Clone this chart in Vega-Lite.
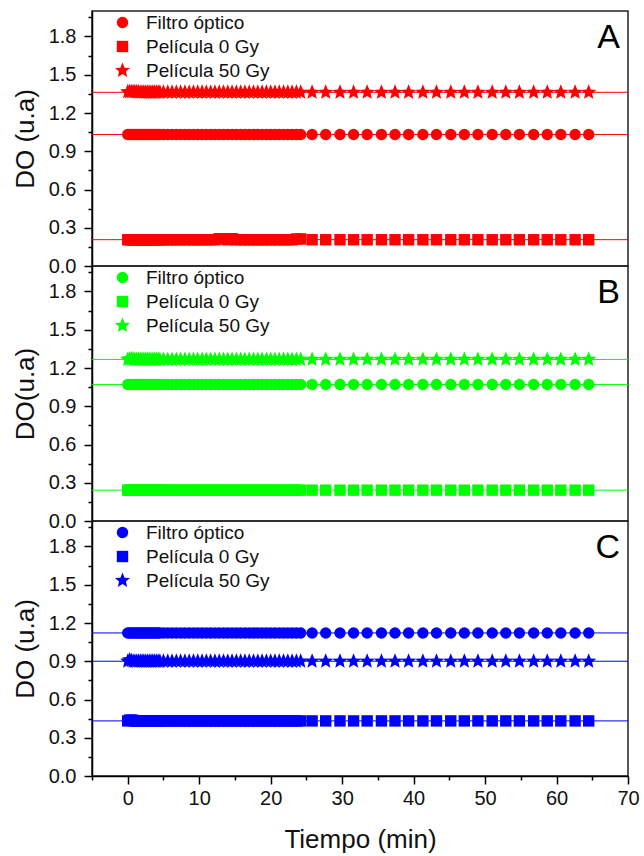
{
  "$schema": "https://vega.github.io/schema/vega-lite/v6.json",
  "padding": {"left": 11, "top": 6, "right": 10, "bottom": 2},
  "bounds": "flush",
  "spacing": 0,
  "datasets": {
    "obs": [
      {"t":0,"Af":1.031,"A0":0.206,"A50":1.366,"Bf":1.07,"B0":0.242,"B50":1.267,"Cf":1.122,"C0":0.432,"C50":0.9},
      {"t":0.25,"Af":1.031,"A0":0.206,"A50":1.366,"Bf":1.07,"B0":0.242,"B50":1.27,"Cf":1.122,"C0":0.438,"C50":0.91},
      {"t":0.5,"Af":1.031,"A0":0.206,"A50":1.366,"Bf":1.07,"B0":0.242,"B50":1.27,"Cf":1.122,"C0":0.438,"C50":0.905},
      {"t":0.75,"Af":1.031,"A0":0.206,"A50":1.366,"Bf":1.07,"B0":0.242,"B50":1.27,"Cf":1.122,"C0":0.436,"C50":0.9},
      {"t":1,"Af":1.031,"A0":0.206,"A50":1.366,"Bf":1.07,"B0":0.242,"B50":1.267,"Cf":1.122,"C0":0.432,"C50":0.9},
      {"t":1.25,"Af":1.031,"A0":0.206,"A50":1.366,"Bf":1.07,"B0":0.242,"B50":1.267,"Cf":1.122,"C0":0.432,"C50":0.9},
      {"t":1.5,"Af":1.031,"A0":0.206,"A50":1.364,"Bf":1.07,"B0":0.242,"B50":1.267,"Cf":1.122,"C0":0.432,"C50":0.9},
      {"t":1.75,"Af":1.031,"A0":0.206,"A50":1.362,"Bf":1.07,"B0":0.242,"B50":1.267,"Cf":1.122,"C0":0.432,"C50":0.9},
      {"t":2,"Af":1.031,"A0":0.206,"A50":1.362,"Bf":1.07,"B0":0.242,"B50":1.267,"Cf":1.122,"C0":0.432,"C50":0.9},
      {"t":2.25,"Af":1.031,"A0":0.206,"A50":1.362,"Bf":1.07,"B0":0.242,"B50":1.267,"Cf":1.122,"C0":0.432,"C50":0.9},
      {"t":2.5,"Af":1.031,"A0":0.206,"A50":1.362,"Bf":1.07,"B0":0.242,"B50":1.267,"Cf":1.122,"C0":0.432,"C50":0.9},
      {"t":2.75,"Af":1.031,"A0":0.206,"A50":1.362,"Bf":1.07,"B0":0.242,"B50":1.267,"Cf":1.122,"C0":0.432,"C50":0.9},
      {"t":3,"Af":1.031,"A0":0.206,"A50":1.362,"Bf":1.07,"B0":0.242,"B50":1.267,"Cf":1.122,"C0":0.432,"C50":0.9},
      {"t":3.25,"Af":1.031,"A0":0.206,"A50":1.362,"Bf":1.07,"B0":0.242,"B50":1.267,"Cf":1.122,"C0":0.432,"C50":0.9},
      {"t":3.5,"Af":1.031,"A0":0.206,"A50":1.362,"Bf":1.07,"B0":0.242,"B50":1.267,"Cf":1.122,"C0":0.432,"C50":0.9},
      {"t":3.75,"Af":1.031,"A0":0.206,"A50":1.362,"Bf":1.07,"B0":0.242,"B50":1.267,"Cf":1.122,"C0":0.432,"C50":0.9},
      {"t":4,"Af":1.031,"A0":0.206,"A50":1.362,"Bf":1.07,"B0":0.242,"B50":1.267,"Cf":1.122,"C0":0.432,"C50":0.9},
      {"t":4.25,"Af":1.031,"A0":0.206,"A50":1.362,"Bf":1.07,"B0":0.242,"B50":1.267,"Cf":1.122,"C0":0.432,"C50":0.9},
      {"t":4.5,"Af":1.031,"A0":0.206,"A50":1.362,"Bf":1.07,"B0":0.242,"B50":1.267,"Cf":1.122,"C0":0.432,"C50":0.9},
      {"t":5,"Af":1.031,"A0":0.206,"A50":1.362,"Bf":1.07,"B0":0.242,"B50":1.267,"Cf":1.122,"C0":0.432,"C50":0.9},
      {"t":5.6,"Af":1.031,"A0":0.206,"A50":1.362,"Bf":1.07,"B0":0.242,"B50":1.267,"Cf":1.122,"C0":0.432,"C50":0.9},
      {"t":6.2,"Af":1.031,"A0":0.206,"A50":1.362,"Bf":1.07,"B0":0.242,"B50":1.267,"Cf":1.122,"C0":0.432,"C50":0.9},
      {"t":6.8,"Af":1.031,"A0":0.206,"A50":1.362,"Bf":1.07,"B0":0.242,"B50":1.267,"Cf":1.122,"C0":0.432,"C50":0.9},
      {"t":7.4,"Af":1.031,"A0":0.206,"A50":1.362,"Bf":1.07,"B0":0.242,"B50":1.267,"Cf":1.122,"C0":0.432,"C50":0.9},
      {"t":8,"Af":1.031,"A0":0.206,"A50":1.362,"Bf":1.07,"B0":0.242,"B50":1.267,"Cf":1.122,"C0":0.432,"C50":0.9},
      {"t":8.6,"Af":1.031,"A0":0.206,"A50":1.362,"Bf":1.07,"B0":0.242,"B50":1.267,"Cf":1.122,"C0":0.432,"C50":0.9},
      {"t":9.2,"Af":1.031,"A0":0.206,"A50":1.362,"Bf":1.07,"B0":0.242,"B50":1.267,"Cf":1.122,"C0":0.432,"C50":0.9},
      {"t":9.8,"Af":1.031,"A0":0.206,"A50":1.362,"Bf":1.07,"B0":0.242,"B50":1.267,"Cf":1.122,"C0":0.432,"C50":0.9},
      {"t":10.4,"Af":1.031,"A0":0.206,"A50":1.362,"Bf":1.07,"B0":0.242,"B50":1.267,"Cf":1.122,"C0":0.432,"C50":0.9},
      {"t":11,"Af":1.031,"A0":0.206,"A50":1.362,"Bf":1.07,"B0":0.242,"B50":1.267,"Cf":1.122,"C0":0.432,"C50":0.9},
      {"t":11.6,"Af":1.031,"A0":0.206,"A50":1.362,"Bf":1.07,"B0":0.242,"B50":1.267,"Cf":1.122,"C0":0.432,"C50":0.9},
      {"t":12.2,"Af":1.031,"A0":0.206,"A50":1.362,"Bf":1.07,"B0":0.242,"B50":1.267,"Cf":1.122,"C0":0.432,"C50":0.9},
      {"t":12.8,"Af":1.031,"A0":0.214,"A50":1.362,"Bf":1.07,"B0":0.242,"B50":1.267,"Cf":1.122,"C0":0.432,"C50":0.9},
      {"t":13.4,"Af":1.031,"A0":0.214,"A50":1.362,"Bf":1.07,"B0":0.242,"B50":1.267,"Cf":1.122,"C0":0.432,"C50":0.9},
      {"t":14,"Af":1.031,"A0":0.206,"A50":1.362,"Bf":1.07,"B0":0.242,"B50":1.267,"Cf":1.122,"C0":0.432,"C50":0.9},
      {"t":14.6,"Af":1.031,"A0":0.214,"A50":1.362,"Bf":1.07,"B0":0.242,"B50":1.267,"Cf":1.122,"C0":0.432,"C50":0.9},
      {"t":15.2,"Af":1.031,"A0":0.206,"A50":1.362,"Bf":1.07,"B0":0.242,"B50":1.267,"Cf":1.122,"C0":0.432,"C50":0.9},
      {"t":15.8,"Af":1.031,"A0":0.206,"A50":1.362,"Bf":1.07,"B0":0.242,"B50":1.267,"Cf":1.122,"C0":0.432,"C50":0.9},
      {"t":16.4,"Af":1.031,"A0":0.206,"A50":1.362,"Bf":1.07,"B0":0.242,"B50":1.267,"Cf":1.122,"C0":0.432,"C50":0.9},
      {"t":17,"Af":1.031,"A0":0.206,"A50":1.362,"Bf":1.07,"B0":0.242,"B50":1.267,"Cf":1.122,"C0":0.432,"C50":0.9},
      {"t":17.6,"Af":1.031,"A0":0.206,"A50":1.362,"Bf":1.07,"B0":0.242,"B50":1.267,"Cf":1.122,"C0":0.432,"C50":0.9},
      {"t":18.2,"Af":1.031,"A0":0.206,"A50":1.362,"Bf":1.07,"B0":0.242,"B50":1.267,"Cf":1.122,"C0":0.432,"C50":0.9},
      {"t":18.8,"Af":1.031,"A0":0.206,"A50":1.362,"Bf":1.07,"B0":0.242,"B50":1.267,"Cf":1.122,"C0":0.432,"C50":0.9},
      {"t":19.4,"Af":1.031,"A0":0.206,"A50":1.362,"Bf":1.07,"B0":0.242,"B50":1.267,"Cf":1.122,"C0":0.432,"C50":0.9},
      {"t":20,"Af":1.031,"A0":0.206,"A50":1.362,"Bf":1.07,"B0":0.242,"B50":1.267,"Cf":1.122,"C0":0.432,"C50":0.9},
      {"t":20.6,"Af":1.031,"A0":0.206,"A50":1.362,"Bf":1.07,"B0":0.242,"B50":1.267,"Cf":1.122,"C0":0.432,"C50":0.9},
      {"t":21.2,"Af":1.031,"A0":0.206,"A50":1.362,"Bf":1.07,"B0":0.242,"B50":1.267,"Cf":1.122,"C0":0.432,"C50":0.9},
      {"t":21.8,"Af":1.031,"A0":0.206,"A50":1.362,"Bf":1.07,"B0":0.242,"B50":1.267,"Cf":1.122,"C0":0.432,"C50":0.9},
      {"t":22.4,"Af":1.031,"A0":0.206,"A50":1.362,"Bf":1.07,"B0":0.242,"B50":1.267,"Cf":1.122,"C0":0.432,"C50":0.9},
      {"t":23,"Af":1.031,"A0":0.206,"A50":1.362,"Bf":1.07,"B0":0.242,"B50":1.267,"Cf":1.122,"C0":0.432,"C50":0.9},
      {"t":23.6,"Af":1.031,"A0":0.212,"A50":1.362,"Bf":1.07,"B0":0.242,"B50":1.267,"Cf":1.122,"C0":0.432,"C50":0.9},
      {"t":24.2,"Af":1.031,"A0":0.212,"A50":1.362,"Bf":1.07,"B0":0.242,"B50":1.267,"Cf":1.122,"C0":0.432,"C50":0.9},
      {"t":25.8,"Af":1.031,"A0":0.206,"A50":1.362,"Bf":1.07,"B0":0.242,"B50":1.267,"Cf":1.122,"C0":0.432,"C50":0.9},
      {"t":27.7,"Af":1.031,"A0":0.206,"A50":1.362,"Bf":1.07,"B0":0.242,"B50":1.267,"Cf":1.122,"C0":0.432,"C50":0.9},
      {"t":29.7,"Af":1.031,"A0":0.206,"A50":1.362,"Bf":1.07,"B0":0.242,"B50":1.267,"Cf":1.122,"C0":0.432,"C50":0.9},
      {"t":31.6,"Af":1.031,"A0":0.206,"A50":1.362,"Bf":1.07,"B0":0.242,"B50":1.267,"Cf":1.122,"C0":0.432,"C50":0.9},
      {"t":33.5,"Af":1.031,"A0":0.206,"A50":1.362,"Bf":1.07,"B0":0.242,"B50":1.267,"Cf":1.122,"C0":0.432,"C50":0.9},
      {"t":35.5,"Af":1.031,"A0":0.206,"A50":1.362,"Bf":1.07,"B0":0.242,"B50":1.267,"Cf":1.122,"C0":0.432,"C50":0.9},
      {"t":37.4,"Af":1.031,"A0":0.206,"A50":1.362,"Bf":1.07,"B0":0.242,"B50":1.267,"Cf":1.122,"C0":0.432,"C50":0.9},
      {"t":39.3,"Af":1.031,"A0":0.206,"A50":1.362,"Bf":1.07,"B0":0.242,"B50":1.267,"Cf":1.122,"C0":0.432,"C50":0.9},
      {"t":41.3,"Af":1.031,"A0":0.206,"A50":1.362,"Bf":1.07,"B0":0.242,"B50":1.267,"Cf":1.122,"C0":0.432,"C50":0.9},
      {"t":43.2,"Af":1.031,"A0":0.206,"A50":1.362,"Bf":1.07,"B0":0.242,"B50":1.267,"Cf":1.122,"C0":0.432,"C50":0.9},
      {"t":45.2,"Af":1.031,"A0":0.206,"A50":1.362,"Bf":1.07,"B0":0.242,"B50":1.267,"Cf":1.122,"C0":0.432,"C50":0.9},
      {"t":47.1,"Af":1.031,"A0":0.206,"A50":1.362,"Bf":1.07,"B0":0.242,"B50":1.267,"Cf":1.122,"C0":0.432,"C50":0.9},
      {"t":49,"Af":1.031,"A0":0.206,"A50":1.362,"Bf":1.07,"B0":0.242,"B50":1.267,"Cf":1.122,"C0":0.432,"C50":0.9},
      {"t":51,"Af":1.031,"A0":0.206,"A50":1.362,"Bf":1.07,"B0":0.242,"B50":1.267,"Cf":1.122,"C0":0.432,"C50":0.9},
      {"t":52.9,"Af":1.031,"A0":0.206,"A50":1.362,"Bf":1.07,"B0":0.242,"B50":1.267,"Cf":1.122,"C0":0.432,"C50":0.9},
      {"t":54.8,"Af":1.031,"A0":0.206,"A50":1.362,"Bf":1.07,"B0":0.242,"B50":1.267,"Cf":1.122,"C0":0.432,"C50":0.9},
      {"t":56.8,"Af":1.031,"A0":0.206,"A50":1.362,"Bf":1.07,"B0":0.242,"B50":1.267,"Cf":1.122,"C0":0.432,"C50":0.9},
      {"t":58.7,"Af":1.031,"A0":0.206,"A50":1.362,"Bf":1.07,"B0":0.242,"B50":1.267,"Cf":1.122,"C0":0.432,"C50":0.9},
      {"t":60.6,"Af":1.031,"A0":0.206,"A50":1.362,"Bf":1.07,"B0":0.242,"B50":1.267,"Cf":1.122,"C0":0.432,"C50":0.9},
      {"t":62.6,"Af":1.031,"A0":0.206,"A50":1.362,"Bf":1.07,"B0":0.242,"B50":1.267,"Cf":1.122,"C0":0.432,"C50":0.9},
      {"t":64.5,"Af":1.031,"A0":0.206,"A50":1.362,"Bf":1.07,"B0":0.242,"B50":1.267,"Cf":1.122,"C0":0.432,"C50":0.9}
    ]
  },
  "data": {"name": "obs"},
  "resolve": {"scale": {"shape": "independent"}, "legend": {"shape": "independent"}},
  "vconcat": [
    {
      "width": 536, "height": 255,
      "transform": [{"fold": ["Af", "A0", "A50"], "as": ["serie", "DO"]}],
      "layer": [
        {
          "mark": {"type": "rule", "color": "#ff0000", "strokeWidth": 1},
          "encoding": {
            "y": {"aggregate": "mean", "field": "DO", "type": "quantitative", "scale": {"domain": [0, 2], "nice": false, "zero": false},
              "axis": {"title": "DO (u.a)", "tickCount": 100, "values": [0,0.15,0.3,0.45,0.6,0.75,0.9,1.05,1.2,1.35,1.5,1.65,1.8,1.95], "labelExpr": "round(datum.value*100) % 30 === 0 ? format(datum.value, '.1f') : ''", "tickSize": {"condition": {"test": "round(datum.value*100) % 30 === 0", "value": 8}, "value": 4}}},
            "detail": {"field": "serie"}
          }
        },
        {
          "mark": {"type": "point", "filled": true, "opacity": 1, "color": "#ff0000", "size": 130, "strokeWidth": 0},
          "encoding": {
            "x": {"field": "t", "type": "quantitative", "scale": {"domain": [-5, 70], "nice": false, "zero": false}, "axis": null},
            "y": {"field": "DO", "type": "quantitative",
              "axis": {"title": "DO (u.a)", "tickCount": 100, "values": [0,0.15,0.3,0.45,0.6,0.75,0.9,1.05,1.2,1.35,1.5,1.65,1.8,1.95], "labelExpr": "round(datum.value*100) % 30 === 0 ? format(datum.value, '.1f') : ''", "tickSize": {"condition": {"test": "round(datum.value*100) % 30 === 0", "value": 8}, "value": 4}}},
            "shape": {"field": "serie", "type": "nominal",
              "scale": {"domain": ["Af", "A0", "A50"], "range": ["circle", "square", "M0,-1.4L0.37,-0.5L1.33,-0.43L0.6,0.19L0.82,1.13L0,0.62L-0.82,1.13L-0.6,0.19L-1.33,-0.43L-0.37,-0.5Z"]},
              "legend": {"labelExpr": "datum.label === 'Af' ? 'Filtro óptico' : datum.label === 'A0' ? 'Película 0 Gy' : '\u00a0Película 50 Gy'", "symbolFillColor": "#ff0000"}}
          }
        },
        {
          "data": {"values": [{"panel": "A"}]},
          "mark": {"type": "text", "align": "right", "baseline": "top", "fontSize": 34, "font": "Liberation Sans", "color": "#000", "dx": -8, "dy": 10},
          "encoding": {"x": {"datum": 70}, "y": {"datum": 2}, "text": {"field": "panel"}}
        }
      ]
    },
    {
      "width": 536, "height": 255,
      "transform": [{"fold": ["Bf", "B0", "B50"], "as": ["serie", "DO"]}],
      "layer": [
        {
          "mark": {"type": "rule", "color": "#00ff00", "strokeWidth": 1},
          "encoding": {
            "y": {"aggregate": "mean", "field": "DO", "type": "quantitative", "scale": {"domain": [0, 2], "nice": false, "zero": false},
              "axis": {"title": "DO(u.a)", "tickCount": 100, "values": [0,0.15,0.3,0.45,0.6,0.75,0.9,1.05,1.2,1.35,1.5,1.65,1.8,1.95], "labelExpr": "round(datum.value*100) % 30 === 0 ? format(datum.value, '.1f') : ''", "tickSize": {"condition": {"test": "round(datum.value*100) % 30 === 0", "value": 8}, "value": 4}}},
            "detail": {"field": "serie"}
          }
        },
        {
          "mark": {"type": "point", "filled": true, "opacity": 1, "color": "#00ff00", "size": 130, "strokeWidth": 0},
          "encoding": {
            "x": {"field": "t", "type": "quantitative", "scale": {"domain": [-5, 70], "nice": false, "zero": false}, "axis": null},
            "y": {"field": "DO", "type": "quantitative",
              "axis": {"title": "DO(u.a)", "tickCount": 100, "values": [0,0.15,0.3,0.45,0.6,0.75,0.9,1.05,1.2,1.35,1.5,1.65,1.8,1.95], "labelExpr": "round(datum.value*100) % 30 === 0 ? format(datum.value, '.1f') : ''", "tickSize": {"condition": {"test": "round(datum.value*100) % 30 === 0", "value": 8}, "value": 4}}},
            "shape": {"field": "serie", "type": "nominal",
              "scale": {"domain": ["Bf", "B0", "B50"], "range": ["circle", "square", "M0,-1.4L0.37,-0.5L1.33,-0.43L0.6,0.19L0.82,1.13L0,0.62L-0.82,1.13L-0.6,0.19L-1.33,-0.43L-0.37,-0.5Z"]},
              "legend": {"labelExpr": "datum.label === 'Bf' ? 'Filtro óptico' : datum.label === 'B0' ? 'Película 0 Gy' : 'Película 50 Gy'", "symbolFillColor": "#00ff00"}}
          }
        },
        {
          "data": {"values": [{"panel": "B"}]},
          "mark": {"type": "text", "align": "right", "baseline": "top", "fontSize": 34, "font": "Liberation Sans", "color": "#000", "dx": -8, "dy": 10},
          "encoding": {"x": {"datum": 70}, "y": {"datum": 2}, "text": {"field": "panel"}}
        }
      ]
    },
    {
      "width": 536, "height": 255,
      "transform": [{"fold": ["Cf", "C0", "C50"], "as": ["serie", "DO"]}],
      "layer": [
        {
          "mark": {"type": "rule", "color": "#0000ff", "strokeWidth": 1},
          "encoding": {
            "y": {"aggregate": "mean", "field": "DO", "type": "quantitative", "scale": {"domain": [0, 2], "nice": false, "zero": false},
              "axis": {"title": "DO (u.a)", "tickCount": 100, "values": [0,0.15,0.3,0.45,0.6,0.75,0.9,1.05,1.2,1.35,1.5,1.65,1.8,1.95], "labelExpr": "round(datum.value*100) % 30 === 0 ? format(datum.value, '.1f') : ''", "tickSize": {"condition": {"test": "round(datum.value*100) % 30 === 0", "value": 8}, "value": 4}}},
            "detail": {"field": "serie"}
          }
        },
        {
          "mark": {"type": "point", "filled": true, "opacity": 1, "color": "#0000ff", "size": 130, "strokeWidth": 0},
          "encoding": {
            "x": {"field": "t", "type": "quantitative", "scale": {"domain": [-5, 70], "nice": false, "zero": false},
              "axis": {"title": "Tiempo (min)", "tickCount": 100, "values": [-5,0,5,10,15,20,25,30,35,40,45,50,55,60,65,70], "labelExpr": "datum.value % 10 === 0 ? format(datum.value, 'd') : ''", "tickSize": {"condition": {"test": "datum.value % 10 === 0", "value": 8}, "value": 4}, "labelPadding": 4, "titlePadding": 18}},
            "y": {"field": "DO", "type": "quantitative",
              "axis": {"title": "DO (u.a)", "tickCount": 100, "values": [0,0.15,0.3,0.45,0.6,0.75,0.9,1.05,1.2,1.35,1.5,1.65,1.8,1.95], "labelExpr": "round(datum.value*100) % 30 === 0 ? format(datum.value, '.1f') : ''", "tickSize": {"condition": {"test": "round(datum.value*100) % 30 === 0", "value": 8}, "value": 4}}},
            "shape": {"field": "serie", "type": "nominal",
              "scale": {"domain": ["Cf", "C0", "C50"], "range": ["circle", "square", "M0,-1.4L0.37,-0.5L1.33,-0.43L0.6,0.19L0.82,1.13L0,0.62L-0.82,1.13L-0.6,0.19L-1.33,-0.43L-0.37,-0.5Z"]},
              "legend": {"labelExpr": "datum.label === 'Cf' ? 'Filtro óptico' : datum.label === 'C0' ? 'Película 0 Gy' : 'Película 50 Gy'", "symbolFillColor": "#0000ff"}}
          }
        },
        {
          "data": {"values": [{"panel": "C"}]},
          "mark": {"type": "text", "align": "right", "baseline": "top", "fontSize": 34, "font": "Liberation Sans", "color": "#000", "dx": -8, "dy": 10},
          "encoding": {"x": {"datum": 70}, "y": {"datum": 2}, "text": {"field": "panel"}}
        }
      ]
    }
  ],
  "config": {
    "font": "Liberation Sans",
    "view": {"stroke": "#222", "strokeWidth": 1.5},
    "axis": {"labelFont": "Liberation Sans", "titleFont": "Liberation Sans", "labelFontSize": 20, "titleFontSize": 26, "titleFontWeight": "normal", "labelColor": "#111", "titleColor": "#111", "tickColor": "#000", "domainColor": "#000", "domainWidth": 1.5, "tickWidth": 1.5, "grid": false, "labelFlush": false, "labelOverlap": false, "labelPadding": 8, "titlePadding": 10},
    "legend": {"orient": "none", "legendX": 21, "legendY": 2, "title": null, "labelFont": "Liberation Sans", "labelFontSize": 19, "labelColor": "#111", "symbolSize": 130, "symbolStrokeWidth": 0, "symbolOpacity": 1, "rowPadding": 4, "labelOffset": 14, "padding": 0}
  }
}
